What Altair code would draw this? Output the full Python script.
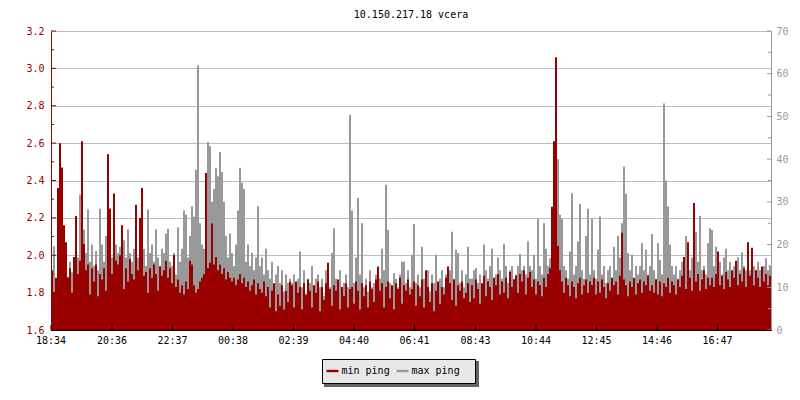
import altair as alt
import pandas as pd

title_text = "10.150.217.18 vcera"
series_names = ["min ping", "max ping"]
series_colors = ["#990000", "#999999"]
red = "#990000"
gray = "#999999"
FONT = "DejaVu Sans Mono"

step_minutes = 4

min_ping = [
    1.92, 1.80, 1.88, 2.36, 2.60, 2.47, 2.16, 2.07, 1.88, 1.93, 1.80, 1.99, 2.21, 1.90, 1.97, 2.61, 2.06, 1.92, 1.95, 1.79, 1.93, 1.86, 1.95, 1.78, 1.90, 1.87, 1.93, 1.81, 2.54, 2.25,
    1.90, 2.33, 1.97, 1.95, 2.00, 2.16, 1.82, 1.93, 1.86, 1.98, 1.90, 1.87, 2.27, 1.92, 2.20, 2.36, 1.89, 1.91, 1.80, 1.93, 1.88, 1.95, 1.90, 1.81, 1.94, 1.89, 1.92, 1.97, 1.88, 1.93,
    1.85, 2.00, 1.83, 1.87, 1.80, 1.84, 1.79, 1.86, 1.82, 1.97, 1.95, 1.84, 1.80, 1.82, 1.86, 1.88, 1.90, 2.44, 1.93, 1.96, 2.17, 1.95, 1.99, 1.92, 1.95, 1.90, 1.93, 1.87, 1.91, 1.88,
    1.86, 1.88, 1.84, 1.87, 1.90, 1.85, 1.88, 1.83, 1.86, 1.81, 1.84, 1.87, 1.79, 1.85, 1.82, 1.80, 1.86, 1.78, 1.83, 1.72, 1.81, 1.85, 1.70, 1.79, 1.73, 1.84, 1.71, 1.81, 1.75, 1.86,
    1.84, 1.72, 1.86, 1.80, 1.83, 1.71, 1.85, 1.79, 1.87, 1.81, 1.72, 1.84, 1.80, 1.86, 1.70, 1.83, 1.76, 1.85, 1.96, 1.82, 1.73, 1.84, 1.81, 1.87, 1.71, 1.83, 1.78, 1.85, 1.72, 1.82,
    1.83, 1.74, 1.86, 1.81, 1.71, 1.85, 1.78, 1.84, 1.72, 1.86, 1.82, 1.75, 1.87, 1.94, 1.81, 1.85, 1.72, 1.83, 1.86, 1.77, 1.84, 1.71, 1.85, 1.82, 1.88, 1.74, 1.84, 1.81, 1.87, 1.79,
    1.82, 1.86, 1.73, 1.84, 1.78, 1.87, 1.72, 1.92, 1.83, 1.75, 1.85, 1.70, 1.81, 1.86, 1.74, 1.83, 1.79, 1.88, 1.94, 1.85, 1.76, 1.87, 1.73, 1.84, 1.81, 1.86, 1.77, 1.80, 1.85, 1.75,
    1.84, 1.77, 1.87, 1.82, 1.74, 1.85, 1.89, 1.78, 1.86, 1.83, 1.76, 1.88, 1.84, 1.90, 1.79, 1.86, 1.80, 1.88, 1.77, 1.91, 1.83, 1.87, 1.89, 1.80, 1.90, 1.86, 1.92, 1.79, 1.88, 1.91,
    1.83, 1.87, 1.79, 1.86, 1.84, 1.78, 1.88, 1.83, 1.90, 1.93, 2.26, 2.61, 3.06, 2.05, 1.92, 1.86, 1.80, 1.88, 1.84, 1.78, 1.86, 1.83, 1.77, 1.85, 1.88, 1.79, 1.84, 1.87, 1.80, 1.86,
    1.84, 1.88, 1.79, 1.86, 1.80, 1.87, 1.83, 1.77, 1.85, 1.81, 1.88, 1.84, 1.86, 1.79, 1.89, 2.12, 1.87, 1.84, 1.78, 1.86, 1.83, 1.88, 1.79, 1.85, 1.87, 1.80, 1.86, 1.84, 1.89, 1.81,
    1.84, 1.80, 1.87, 1.79, 1.86, 1.78, 1.85, 1.83, 1.88, 1.80, 1.86, 1.84, 1.79, 1.87, 1.83, 1.89, 1.99, 1.82, 2.07, 1.88, 1.81, 2.28, 1.86, 1.90, 1.81, 1.87, 1.92, 1.82, 1.88, 1.84,
    1.88, 1.83, 1.90, 2.02, 1.84, 1.89, 1.82, 1.91, 1.87, 1.83, 1.92, 1.88, 1.97, 1.84, 1.90, 1.86, 1.93, 1.83, 2.07, 1.89, 2.04, 1.84, 1.92, 1.88, 1.83, 1.94, 1.86, 1.90, 1.84, 1.89,
]

max_ping = [
    14, 19.6, 12, 10, 15, 16, 13, 15.7, 12.5, 16, 13.5, 15, 14, 17, 31.7, 21, 23.5, 18, 28.2, 16, 20, 15, 18.5, 14, 28.4, 20, 16, 22, 17, 15,
    17, 16, 20, 18, 19.5, 16, 21, 17, 23.5, 18, 16, 19, 15, 17, 14, 16, 19, 15, 28.2, 18, 20, 16, 23.5, 17, 15, 19, 18, 22.6, 23.7, 16,
    15, 18, 13, 24, 16, 19, 28, 27, 17, 22, 29, 26.5, 37.5, 62, 25, 20, 19, 20, 44, 43, 30, 33, 38, 36, 41.7, 37, 30, 22, 17, 22.6,
    18, 15, 20, 28, 38, 34.5, 33, 16, 20, 15, 18, 14, 17, 29, 15, 17, 13, 19, 14, 12, 16, 10, 13, 15, 11, 14, 9, 13, 11, 12,
    11, 13, 9, 12, 18.4, 10, 14, 8, 12, 11, 15, 9, 12, 13, 10, 12, 8, 14, 11, 10, 18, 23.8, 12, 9, 14, 9, 11, 13, 10, 50.4,
    27.9, 11, 17, 30.9, 13, 25, 10, 12, 9, 14, 10, 11, 13, 10, 12, 19, 14, 34, 23.4, 11, 9, 13.3, 12, 10, 13, 16, 16, 11, 14, 10,
    17.6, 24.8, 11, 13, 10, 19.5, 12, 10, 14, 9, 13, 11, 17.6, 10, 12, 14, 10, 13, 11, 14, 23, 12, 18.8, 18, 11, 14, 10, 13, 19.5, 12,
    12, 14, 14.5, 11, 13, 10, 20, 14, 12, 15, 19, 11, 13, 17, 14, 12, 20.2, 15, 11, 14, 15, 12, 13, 15, 17.8, 14, 15, 13, 20.7, 15,
    14, 17.6, 12, 26, 15, 13, 25, 19, 15, 16.8, 24.2, 20, 30, 40, 27, 26, 15, 14, 12, 18.4, 32, 13, 15, 20.7, 29.5, 14, 12, 22, 28.4, 13,
    26, 14, 12, 18.8, 26.6, 13, 15, 11, 14, 15, 12, 19.5, 14, 22, 17, 25, 38.3, 31.9, 18, 14, 17.6, 12, 15, 13, 15, 20.3, 14, 18.8, 13, 15,
    22.5, 14, 12, 20.3, 16.4, 13, 53, 35, 28.9, 20, 15, 13, 15, 12, 14, 16, 14, 22, 15, 14, 17, 14, 23, 16, 26.7, 14, 15, 13, 20.3, 23.8,
    23.4, 15, 19.5, 14, 16, 13, 17, 19, 14, 16, 13, 15, 14, 17, 14, 18.2, 15, 14, 15.6, 14, 13, 15, 14, 16, 14, 13, 15, 16.8, 14, 15,
]

tick_minutes = [0, 122, 243, 364, 485, 606, 727, 849, 970, 1091, 1212, 1333]
tick_labels = ["18:34", "20:36", "22:37", "00:38", "02:39", "04:40", "06:41",
               "08:43", "10:44", "12:45", "14:46", "16:47"]
left_ticks = [1.6, 1.8, 2.0, 2.2, 2.4, 2.6, 2.8, 3.0, 3.2]
left_minor = [1.7, 1.9, 2.1, 2.3, 2.5, 2.7, 2.9, 3.1]
right_ticks = [0, 10, 20, 30, 40, 50, 60, 70]
right_minor = [5, 15, 25, 35, 45, 55, 65]
x_domain = [0, 1440]
left_domain = [1.6, 3.2]
right_domain = [0, 70]

W, H = 720, 299

df = pd.DataFrame({
    "t": [i * step_minutes for i in range(len(min_ping))],
    "min": min_ping,
    "max": max_ping,
})
df["t2"] = df["t"] + step_minutes

xscale = alt.Scale(domain=x_domain, nice=False, zero=False)
lscale = alt.Scale(domain=left_domain, nice=False, zero=False)
rscale = alt.Scale(domain=right_domain, nice=False, zero=False)
cscale = alt.Scale(domain=series_names, range=series_colors)

base = alt.Chart(df)

gray_bars = base.transform_calculate(series="'max ping'").mark_bar().encode(
    x=alt.X("t:Q", scale=xscale, axis=None),
    x2="t2:Q",
    y=alt.Y("max:Q", scale=rscale, axis=alt.Axis(
        orient="right", values=right_ticks, title=None, grid=False, ticks=True,
        tickSize=0, domainColor=gray, labelColor=gray, labelFont=FONT,
        labelFontSize=10, labelPadding=5, format="d")),
    y2=alt.datum(0),
    color=alt.Color("series:N", scale=cscale, legend=alt.Legend(
        title=None, orient="none", legendX=275.5, legendY=334, direction="horizontal",
        symbolType="M-1,-0.2H1V0.2H-1Z", symbolSize=144, symbolStrokeWidth=0,
        labelFont=FONT, labelFontSize=10, labelColor="black", labelOffset=3,
        columnPadding=6, padding=0)),
)

red_bars = base.transform_calculate(series="'min ping'").mark_bar().encode(
    x=alt.X("t:Q", scale=xscale, axis=None),
    x2="t2:Q",
    y=alt.Y("min:Q", scale=lscale, axis=alt.Axis(
        orient="left", values=left_ticks, title=None, grid=True, gridColor="#bdbdbd",
        gridWidth=1, ticks=True, tickSize=0, domainColor=red, labelColor=red,
        labelFont=FONT, labelFontSize=10, labelPadding=7, format=".1f")),
    y2=alt.datum(left_domain[0]),
    color=alt.Color("series:N", scale=cscale),
)


def ytick_layer(values, scale, x1, x2, color):
    return alt.Chart(pd.DataFrame({"v": values})).mark_rule(color=color, strokeWidth=1).encode(
        x=alt.value(x1), x2=alt.value(x2), y=alt.Y("v:Q", scale=scale, axis=None))


lmaj = ytick_layer(left_ticks, lscale, 0, 5, red)
lmin = ytick_layer(left_minor, lscale, 0, 3, red)
rmaj = ytick_layer(right_ticks, rscale, W - 4, W, gray)
rmin = ytick_layer(right_minor, rscale, W - 3, W, gray)

xticks_df = pd.DataFrame({"m": tick_minutes, "label": tick_labels})
bticks = alt.Chart(xticks_df).mark_rule(color="black").encode(
    x=alt.X("m:Q", scale=xscale, axis=None), y=alt.value(H - 5), y2=alt.value(H))
blabels = alt.Chart(xticks_df).mark_text(
    font=FONT, fontSize=10, color="black", baseline="top", align="center"
).encode(x=alt.X("m:Q", scale=xscale, axis=None), y=alt.value(H + 6), text="label:N")

one = pd.DataFrame({"k": [0]})
bdomain = alt.Chart(one).mark_rule(color="black", strokeWidth=1).encode(
    x=alt.value(0), x2=alt.value(W + 1), y=alt.value(H + 0.5))
shadow = alt.Chart(one).mark_rect(color="#646464").encode(
    x=alt.value(273), x2=alt.value(428), y=alt.value(330), y2=alt.value(356))
box = alt.Chart(one).mark_rect(fill="#e8e8e8", stroke="black", strokeWidth=1).encode(
    x=alt.value(271.5), x2=alt.value(424.5), y=alt.value(328.5), y2=alt.value(352.5))

chart = alt.layer(
    shadow, box, gray_bars, red_bars, lmaj, lmin, rmaj, rmin, bdomain, bticks, blabels
).resolve_scale(y="independent").properties(
    width=W, height=H,
    title=alt.TitleParams(title_text, font=FONT, fontSize=10, fontWeight="normal",
                          color="black", anchor="middle", offset=6),
    padding={"left": 43, "top": 23, "right": 21, "bottom": 62},
    autosize=alt.AutoSizeParams(type="none"),
    background="white",
).configure_view(stroke=None)

chart.save("out.html", embed_options={"renderer": "svg", "actions": False})
